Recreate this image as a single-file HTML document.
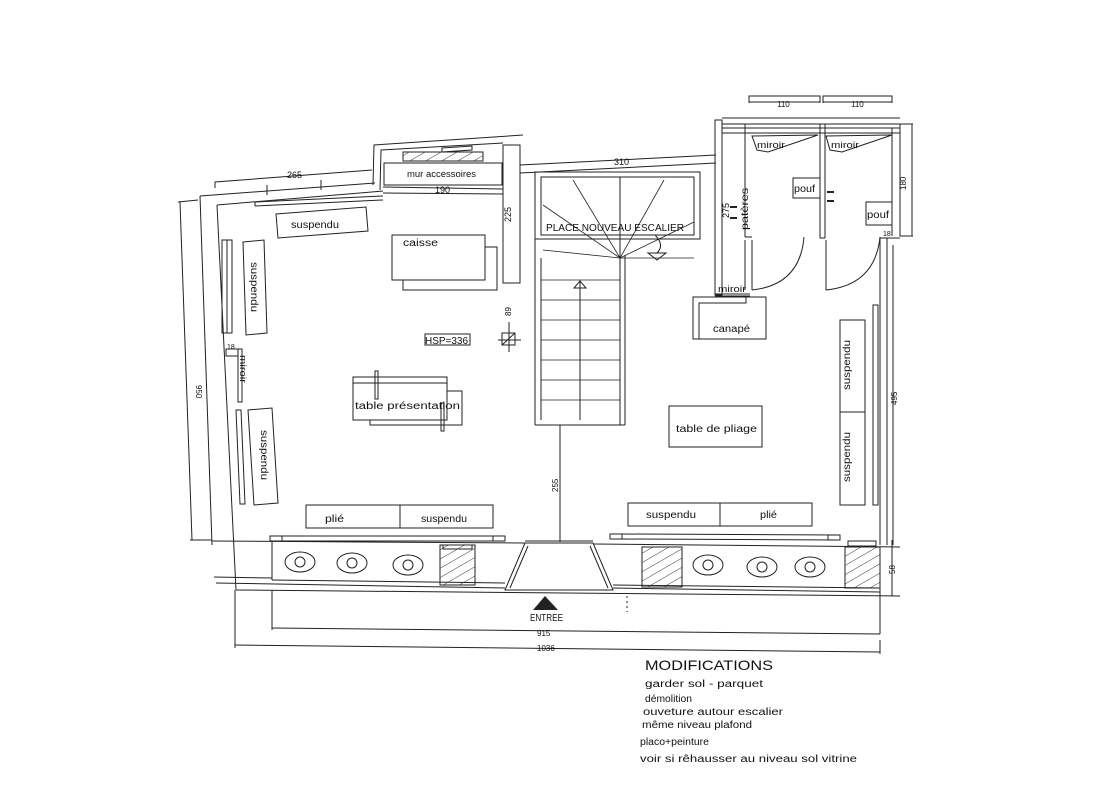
<!DOCTYPE html>
<html><head><meta charset="utf-8"><style>
html,body{margin:0;padding:0;background:#fff;width:1097px;height:795px;overflow:hidden}
svg{display:block}
text{font-family:"Liberation Sans",sans-serif;fill:#111}
</style></head><body>
<svg width="1097" height="795" viewBox="0 0 1097 795" xmlns="http://www.w3.org/2000/svg">
<defs>
<pattern id="h" width="8" height="8" patternUnits="userSpaceOnUse" patternTransform="rotate(60)">
<line x1="0" y1="0" x2="0" y2="8" stroke="#222" stroke-width="0.9"/>
</pattern>
</defs>
<g fill="none" stroke="#222" stroke-width="1">
<polyline points="178,202 198,200"/>
<line x1="180" y1="202" x2="192" y2="540"/>
<line x1="190" y1="540" x2="212" y2="540"/>
<line x1="200" y1="196" x2="212" y2="545"/>
<line x1="217" y1="205" x2="236" y2="590"/>
<polyline points="200,196 375,183"/>
<polyline points="217,205 383,191"/>
<polyline points="215,188 215,182 372,170"/>
<line x1="255" y1="202" x2="383" y2="196"/>
<line x1="255" y1="206" x2="383" y2="200"/>
<line x1="255" y1="202" x2="255" y2="206"/>
<line x1="267" y1="185" x2="267" y2="195"/>
<line x1="321" y1="180" x2="321" y2="190"/>
<polyline points="373,185 374,145 523,135"/>
<polyline points="380,190 381,150 503,143"/>
<rect x="384" y="163" width="118" height="22"/>
<rect x="403" y="152" width="80" height="9" fill="url(#h)"/>
<polygon points="442,148 472,146 472,150 442,152"/>
<line x1="383" y1="187" x2="503" y2="189"/>
<line x1="383" y1="193" x2="503" y2="194"/>
<rect x="503" y="145" width="17" height="138"/>
<line x1="520" y1="165" x2="716" y2="155"/>
<line x1="520" y1="173" x2="716" y2="163"/>
<rect x="535" y="172" width="165" height="67"/>
<rect x="541" y="177" width="153" height="58"/>
<line x1="620" y1="177" x2="620" y2="425"/>
<line x1="625" y1="255" x2="625" y2="425"/>
<g stroke-width="0.8">
<line x1="620" y1="258" x2="573" y2="180"/><line x1="620" y1="258" x2="543" y2="205"/>
<line x1="620" y1="258" x2="543" y2="250"/><line x1="620" y1="258" x2="664" y2="180"/>
<line x1="620" y1="258" x2="694" y2="222"/><line x1="620" y1="258" x2="694" y2="258"/>
<line x1="620" y1="258" x2="620" y2="177"/>
</g>
<path d="M655,235 Q665,245 657,253"/>
<polygon points="648,253 666,253 657,260"/>
<line x1="535" y1="239" x2="535" y2="425"/>
<line x1="541" y1="258" x2="541" y2="420"/>
<line x1="535" y1="425" x2="625" y2="425"/>
<g stroke-width="0.8">
<line x1="541" y1="280" x2="620" y2="280"/><line x1="541" y1="300" x2="620" y2="300"/>
<line x1="541" y1="320" x2="620" y2="320"/><line x1="541" y1="340" x2="620" y2="340"/>
<line x1="541" y1="360" x2="620" y2="360"/><line x1="541" y1="380" x2="620" y2="380"/>
<line x1="541" y1="400" x2="620" y2="400"/>
</g>
<line x1="580" y1="280" x2="580" y2="420"/>
<polygon points="574,288 586,288 580,281"/>
<line x1="560" y1="425" x2="560" y2="542"/>
<rect x="715" y="120" width="7" height="175"/>
<line x1="722" y1="118" x2="900" y2="118"/>
<line x1="722" y1="124" x2="900" y2="124"/>
<line x1="722" y1="128" x2="900" y2="128"/>
<line x1="722" y1="133" x2="900" y2="133"/>
<polyline points="749,103 749,96 820,96 820,103"/>
<polyline points="823,103 823,96 892,96 892,103"/>
<line x1="749" y1="102" x2="820" y2="102"/>
<line x1="823" y1="102" x2="892" y2="102"/>
<line x1="745" y1="124" x2="745" y2="237"/>
<polygon points="752,136 818,135 768,152 757,150"/>
<polygon points="826,136 892,135 842,152 830,150"/>
<rect x="793" y="178" width="27" height="20"/>
<rect x="866" y="202" width="26" height="23"/>
<line x1="820" y1="124" x2="820" y2="238"/><line x1="825" y1="124" x2="825" y2="238"/>
<line x1="820" y1="238" x2="825" y2="238"/>
<line x1="745" y1="237" x2="752" y2="237"/>
<line x1="752" y1="240" x2="752" y2="290"/>
<path d="M752,290 Q800,285 804,237"/>
<line x1="826" y1="240" x2="826" y2="290"/>
<path d="M826,290 Q875,285 880,237"/>
<line x1="745" y1="240" x2="745" y2="290"/>
<line x1="715" y1="294" x2="750" y2="294"/>
<line x1="715" y1="296" x2="750" y2="296"/>
<line x1="892" y1="128" x2="892" y2="236"/>
<polyline points="900,124 900,236 913,236"/><line x1="900" y1="124" x2="913" y2="124"/>
<line x1="912" y1="124" x2="912" y2="236"/>
<line x1="880" y1="238" x2="880" y2="545"/>
<line x1="887" y1="238" x2="887" y2="545"/>
<line x1="880" y1="238" x2="900" y2="238"/>
<line x1="893" y1="245" x2="893" y2="545"/>
<line x1="730" y1="207" x2="737" y2="207" stroke-width="2"/>
<line x1="730" y1="218" x2="737" y2="218" stroke-width="2"/>
<line x1="827" y1="192" x2="834" y2="192" stroke-width="2"/>
<line x1="827" y1="201" x2="834" y2="201" stroke-width="2"/>
<rect x="693" y="297" width="73" height="42"/>
<polyline points="699,339 699,303 746,303 746,297"/>
<rect x="840" y="320" width="25" height="92"/>
<rect x="840" y="412" width="25" height="93"/>
<rect x="873" y="305" width="5" height="200"/>
<rect x="669" y="406" width="93" height="41"/>
<rect x="222" y="240" width="5" height="93"/>
<rect x="227" y="240" width="5" height="93"/>
<polygon points="243,242 264,240 267,333 246,335"/>
<rect x="226" y="349" width="12" height="7"/>
<rect x="238" y="349" width="4" height="53"/>
<polygon points="236,410 241,410 245,504 240,504"/>
<polygon points="248,410 272,408 278,503 254,505"/>
<polygon points="276,214 366,207 368,231 278,238"/>
<rect x="392" y="235" width="93" height="45"/>
<polyline points="403,280 403,290 497,290 497,247 485,247"/>
<rect x="425" y="334" width="45" height="11"/>
<line x1="509" y1="322" x2="509" y2="352"/>
<line x1="498" y1="340" x2="521" y2="340"/>
<rect x="502" y="333" width="13" height="12"/>
<line x1="502" y1="345" x2="515" y2="333"/>
<rect x="353" y="377" width="94" height="43"/>
<line x1="353" y1="383" x2="447" y2="383"/>
<polyline points="370,420 370,425 462,425 462,391 447,391"/>
<rect x="375" y="371" width="3" height="28"/>
<rect x="441" y="403" width="3" height="28"/>
<rect x="306" y="505" width="94" height="23"/>
<rect x="400" y="505" width="93" height="23"/>
<rect x="628" y="503" width="92" height="23"/>
<rect x="720" y="503" width="92" height="23"/>
<rect x="270" y="536" width="12" height="5"/>
<line x1="282" y1="536" x2="505" y2="536"/><line x1="282" y1="541" x2="505" y2="541"/>
<rect x="493" y="536" width="12" height="5"/>
<rect x="610" y="534" width="12" height="5"/>
<line x1="622" y1="534" x2="840" y2="535"/><line x1="622" y1="539" x2="840" y2="540"/>
<rect x="828" y="535" width="12" height="5"/>
<line x1="212" y1="541" x2="525" y2="543"/>
<line x1="593" y1="544" x2="900" y2="547"/>
<line x1="272" y1="541" x2="272" y2="580"/>
<line x1="214" y1="577" x2="272" y2="578"/>
<line x1="216" y1="583" x2="505" y2="588"/>
<line x1="272" y1="580" x2="505" y2="583"/>
<line x1="613" y1="588" x2="880" y2="592"/>
<line x1="613" y1="585" x2="880" y2="588"/>
<line x1="236" y1="590" x2="900" y2="596"/>
<line x1="880" y1="547" x2="880" y2="596"/>
<line x1="892" y1="540" x2="892" y2="596"/>
<rect x="440" y="545" width="35" height="40" fill="url(#h)"/>
<rect x="443" y="545" width="29" height="4"/>
<rect x="642" y="547" width="40" height="40" fill="url(#h)"/>
<rect x="845" y="547" width="35" height="41" fill="url(#h)"/>
<rect x="848" y="541" width="28" height="5"/>
<polygon points="525,543 593,543 613,590 505,590"/>
<line x1="528" y1="546" x2="510" y2="588"/>
<line x1="590" y1="546" x2="608" y2="588"/>
<line x1="525" y1="541" x2="593" y2="541"/>
<ellipse cx="300" cy="562" rx="15" ry="10"/><circle cx="300" cy="562" r="5"/>
<ellipse cx="352" cy="563" rx="15" ry="10"/><circle cx="352" cy="563" r="5"/>
<ellipse cx="408" cy="565" rx="15" ry="10"/><circle cx="408" cy="565" r="5"/>
<ellipse cx="708" cy="565" rx="15" ry="10"/><circle cx="708" cy="565" r="5"/>
<ellipse cx="762" cy="567" rx="15" ry="10"/><circle cx="762" cy="567" r="5"/>
<ellipse cx="810" cy="567" rx="15" ry="10"/><circle cx="810" cy="567" r="5"/>
<line x1="272" y1="590" x2="272" y2="630"/>
<line x1="272" y1="628" x2="880" y2="634"/>
<line x1="880" y1="596" x2="880" y2="634"/>
<line x1="235" y1="590" x2="235" y2="648"/>
<line x1="235" y1="645" x2="880" y2="652"/>
<line x1="880" y1="640" x2="880" y2="654"/>
<line x1="627" y1="596" x2="627" y2="612" stroke-dasharray="2,3"/>
</g>
<polygon points="533,610 558,610 545,596" fill="#222"/>
<g font-size="10" lengthAdjust="spacingAndGlyphs">
<text x="287" y="178" font-size="9">265</text>
<text x="435" y="193" font-size="9">190</text>
<text x="407" y="177" font-size="9" textLength="69" lengthAdjust="spacingAndGlyphs">mur accessoires</text>
<text x="291" y="228" textLength="48" lengthAdjust="spacingAndGlyphs">suspendu</text>
<text x="403" y="246" textLength="35" lengthAdjust="spacingAndGlyphs">caisse</text>
<text x="614" y="165" font-size="9">310</text>
<text x="546" y="231" textLength="138" lengthAdjust="spacingAndGlyphs">PLACE NOUVEAU ESCALIER</text>
<text x="777" y="107" font-size="8">110</text>
<text x="851" y="107" font-size="8">110</text>
<text x="757" y="148" font-size="9" textLength="28" lengthAdjust="spacingAndGlyphs">miroir</text>
<text x="831" y="148" font-size="9" textLength="28" lengthAdjust="spacingAndGlyphs">miroir</text>
<text x="794" y="192" textLength="21" lengthAdjust="spacingAndGlyphs">pouf</text>
<text x="867" y="218" textLength="22" lengthAdjust="spacingAndGlyphs">pouf</text>
<text x="883" y="236" font-size="7">18</text>
<text x="718" y="292" font-size="9" textLength="28" lengthAdjust="spacingAndGlyphs">miroir</text>
<text x="713" y="332" textLength="37" lengthAdjust="spacingAndGlyphs">canapé</text>
<text x="676" y="432" textLength="81" lengthAdjust="spacingAndGlyphs">table de pliage</text>
<text x="425" y="344" textLength="43" lengthAdjust="spacingAndGlyphs">HSP=336</text>
<text x="355" y="409" textLength="105" lengthAdjust="spacingAndGlyphs">table présentation</text>
<text x="227" y="349" font-size="7">18</text>
<text x="325" y="522" textLength="19" lengthAdjust="spacingAndGlyphs">plié</text>
<text x="421" y="522" textLength="46" lengthAdjust="spacingAndGlyphs">suspendu</text>
<text x="646" y="518" textLength="50" lengthAdjust="spacingAndGlyphs">suspendu</text>
<text x="760" y="518" textLength="17" lengthAdjust="spacingAndGlyphs">plié</text>
<text x="530" y="621" textLength="33" lengthAdjust="spacingAndGlyphs">ENTREE</text>
<text x="537" y="636" font-size="8">915</text>
<text x="537" y="651" font-size="8">1036</text>
</g>
<g font-size="10">
<text transform="translate(511,222) rotate(-90)" font-size="9">225</text>
<text transform="translate(729,218) rotate(-90)" font-size="9">275</text>
<text transform="translate(748,230) rotate(-90)" textLength="42" lengthAdjust="spacingAndGlyphs">patères</text>
<text transform="translate(906,190) rotate(-90)" font-size="8">180</text>
<text transform="translate(511,316) rotate(-90)" font-size="8">89</text>
<text transform="translate(196,385) rotate(90)" font-size="8">950</text>
<text transform="translate(558,492) rotate(-90)" font-size="8">255</text>
<text transform="translate(897,405) rotate(-90)" font-size="8">495</text>
<text transform="translate(895,574) rotate(-90)" font-size="8">58</text>
<text transform="translate(251,262) rotate(90)" textLength="50" lengthAdjust="spacingAndGlyphs">suspendu</text>
<text transform="translate(240,355) rotate(90)" font-size="9" textLength="28" lengthAdjust="spacingAndGlyphs">miroir</text>
<text transform="translate(261,430) rotate(90)" textLength="50" lengthAdjust="spacingAndGlyphs">suspendu</text>
<text transform="translate(850,390) rotate(-90)" textLength="50" lengthAdjust="spacingAndGlyphs">suspendu</text>
<text transform="translate(850,482) rotate(-90)" textLength="50" lengthAdjust="spacingAndGlyphs">suspendu</text>
</g>
<g font-size="10">
<text x="645" y="670" font-size="14" textLength="128" lengthAdjust="spacingAndGlyphs">MODIFICATIONS</text>
<text x="645" y="687" textLength="118" lengthAdjust="spacingAndGlyphs">garder sol - parquet</text>
<text x="645" y="702" textLength="47" lengthAdjust="spacingAndGlyphs">démolition</text>
<text x="643" y="715" textLength="140" lengthAdjust="spacingAndGlyphs">ouveture autour escalier</text>
<text x="642" y="728" textLength="110" lengthAdjust="spacingAndGlyphs">même niveau plafond</text>
<text x="640" y="745" textLength="69" lengthAdjust="spacingAndGlyphs">placo+peinture</text>
<text x="640" y="762" textLength="217" lengthAdjust="spacingAndGlyphs">voir si rêhausser au niveau sol vitrine</text>
</g>
</svg>
</body></html>
